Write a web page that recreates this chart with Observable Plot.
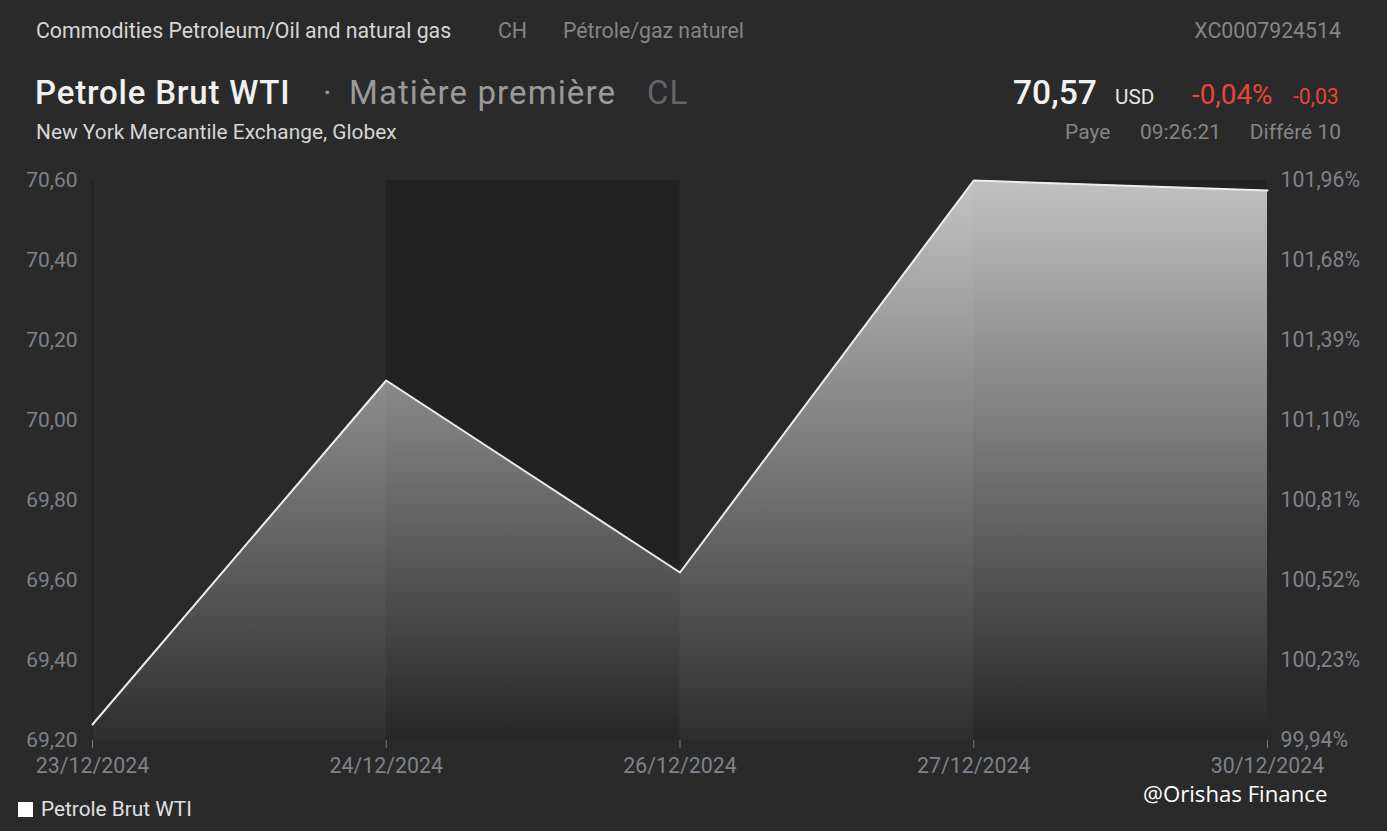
<!DOCTYPE html>
<html>
<head>
<meta charset="utf-8">
<script src="https://cdn.jsdelivr.net/npm/d3@7"></script>
<script src="https://cdn.jsdelivr.net/npm/@observablehq/plot@0.6"></script>
<style>
  html, body { margin: 0; padding: 0; background: #2a2a2a; }
  body { width: 1387px; height: 831px; position: relative; overflow: hidden; font-family: Roboto, "Noto Sans", sans-serif; }
  .t { position: absolute; white-space: nowrap; line-height: 1; }
  #chart { position: absolute; left: 0; top: 150px; }
</style>
</head>
<body>
<div class="t" style="left:36px;top:20px;font-size:21.3px;color:#d6d6d6">Commodities Petroleum/Oil and natural gas</div>
<div class="t" style="left:498px;top:20px;font-size:21.3px;color:#858585">CH</div>
<div class="t" style="left:563px;top:20px;font-size:21.3px;color:#858585">Pétrole/gaz naturel</div>
<div class="t" style="right:46px;top:20px;font-size:21.3px;color:#858585">XC0007924514</div>

<div class="t" style="left:35px;top:76px;font-size:33px;letter-spacing:0.8px;color:#f0f0f0;font-weight:500">Petrole Brut WTI</div>
<div class="t" style="left:323px;top:76px;font-size:33px;color:#9a9a9a">·</div>
<div class="t" style="left:349px;top:76px;font-size:33px;letter-spacing:1.1px;color:#9a9a9a">Matière première</div>
<div class="t" style="left:647px;top:76px;font-size:33px;letter-spacing:1px;color:#64646e">CL</div>

<div class="t" style="left:1013px;top:75.7px;font-size:33.6px;color:#f2f2f2;font-weight:500">70,57</div>
<div class="t" style="left:1115px;top:86.6px;font-size:20.7px;color:#e6e6e6">USD</div>
<div class="t" style="left:1192px;top:80.8px;font-size:27.8px;color:#e8453a">-0,04%</div>
<div class="t" style="left:1293px;top:86.3px;font-size:21.2px;color:#e8453a">-0,03</div>

<div class="t" style="left:36px;top:121.6px;font-size:20.9px;color:#d6d6d6">New York Mercantile Exchange, Globex</div>
<div class="t" style="left:1065px;top:121.6px;font-size:21px;color:#858585">Paye</div>
<div class="t" style="left:1140px;top:121.6px;font-size:21px;color:#858585">09:26:21</div>
<div class="t" style="right:46px;top:121.6px;font-size:21px;color:#858585">Différé 10</div>

<div id="chart"></div>

<div class="t" style="left:18px;top:802px;width:15px;height:15px;background:#ffffff"></div>
<div class="t" style="left:41px;top:799px;font-size:20.8px;color:#e0e0e0">Petrole Brut WTI</div>
<div class="t" style="left:1143px;top:783px;font-size:22.2px;color:#ffffff;font-family:'Open Sans', Lato, sans-serif">@Orishas Finance</div>

<script>
// ---- data ----
const dates = ["23/12/2024", "24/12/2024", "26/12/2024", "27/12/2024", "30/12/2024"];
const prices = [69.24, 70.10, 69.62, 70.60, 70.575];
const yTicks = [69.2, 69.4, 69.6, 69.8, 70.0, 70.2, 70.4, 70.6];
const leftTickLabels = ["69,20", "69,40", "69,60", "69,80", "70,00", "70,20", "70,40", "70,60"];
const rightTickLabels = ["99,94%", "100,23%", "100,52%", "100,81%", "101,10%", "101,39%", "101,68%", "101,96%"];
const shadedBands = [{from: 1, to: 2}, {from: 3, to: 4}];

const data = dates.map((d, i) => ({i, date: d, price: prices[i]}));
const xIdx = dates.map((d, i) => i);

const labelColor = "#7e828a";

const chart = Plot.plot({
  width: 1387,
  height: 650,
  marginLeft: 92,
  marginRight: 120,
  marginTop: 30,
  marginBottom: 60,
  style: {background: "transparent", fontFamily: "Roboto, sans-serif", fontSize: "21px", color: labelColor, overflow: "visible"},
  x: {type: "linear", domain: [0, dates.length - 1], label: null},
  y: {domain: [69.2, 70.6], label: null},
  marks: [
    Plot.rect(shadedBands, {x1: "from", x2: "to", fill: "#222222"}),
    Plot.ruleX([0], {stroke: "#222222", strokeWidth: 1.5}),
    Plot.areaY(data, {x: "i", y1: 69.2, y2: "price", fill: "url(#areaGrad)"}),
    Plot.line(data, {x: "i", y: "price", stroke: "#ececec", strokeWidth: 2}),
    Plot.axisX({ticks: xIdx, tickFormat: i => dates[i], tickSize: 8, tickPadding: 9, stroke: "#777", fill: labelColor, fontSize: 21.3}),
    Plot.axisY({anchor: "left", ticks: yTicks, tickFormat: (v, k) => leftTickLabels[k], tickSize: 0, tickPadding: 15, fill: labelColor, fontSize: 21}),
    Plot.axisY({anchor: "right", ticks: yTicks, tickFormat: (v, k) => rightTickLabels[k], tickSize: 0, tickPadding: 13, fill: labelColor, fontSize: 21.3})
  ]
});

// gradient definition for area fill
const ns = "http://www.w3.org/2000/svg";
const defs = document.createElementNS(ns, "defs");
const grad = document.createElementNS(ns, "linearGradient");
grad.setAttribute("id", "areaGrad");
grad.setAttribute("x1", "0"); grad.setAttribute("y1", "0");
grad.setAttribute("x2", "0"); grad.setAttribute("y2", "1");
[["0", 0.72], ["1", 0.02]].forEach(([o, a]) => {
  const s = document.createElementNS(ns, "stop");
  s.setAttribute("offset", o);
  s.setAttribute("stop-color", "#ffffff");
  s.setAttribute("stop-opacity", a);
  grad.appendChild(s);
});
defs.appendChild(grad);
chart.insertBefore(defs, chart.firstChild);

document.getElementById("chart").appendChild(chart);
</script>
</body>
</html>
